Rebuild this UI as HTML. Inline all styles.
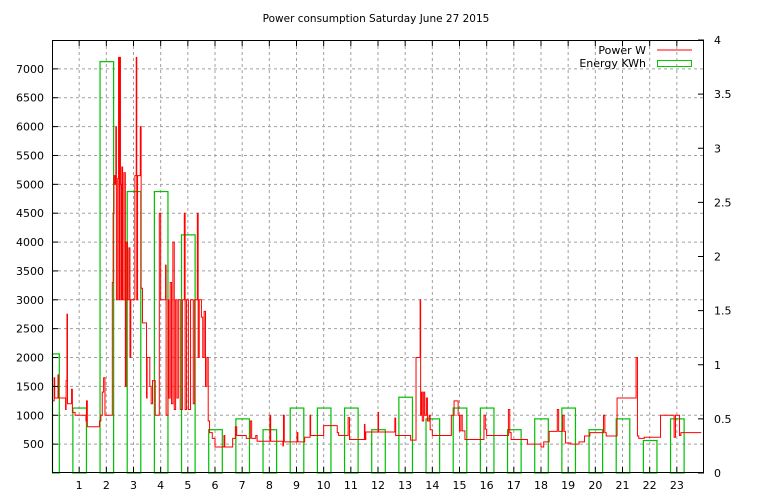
<!DOCTYPE html>
<html><head><meta charset="utf-8"><style>
body{margin:0;background:#fff;}
svg{display:block;font-family:"DejaVu Sans","Liberation Sans",sans-serif;font-size:11px;}
</style></head><body>
<svg id="chart" width="768" height="500">
<text x="376" y="22" text-anchor="middle" font-size="10.5">Power consumption Saturday June 27 2015</text>
<g id="grid"></g>
<g id="energy"></g>
<g id="power"></g>
<g id="axes"></g>
<g>
<g>
<text x="646" y="54" text-anchor="end">Power W</text>
<line x1="657" y1="50" x2="692" y2="50" stroke="#f00" stroke-width="1"/>
</g>
<g>
<text x="646" y="67" text-anchor="end">Energy KWh</text>
<rect x="657.5" y="60.5" width="34" height="6" fill="none" stroke="#0c0" stroke-width="1"/>
</g>
</g>
</svg>
<script>
const hourTicks=[1,2,3,4,5,6,7,8,9,10,11,12,13,14,15,16,17,18,19,20,21,22,23];
const wattTicks=[500,1000,1500,2000,2500,3000,3500,4000,4500,5000,5500,6000,6500,7000];
const kwhTicks=[0,0.5,1,1.5,2,2.5,3,3.5,4];
const energyHours=[0,1,2,3,4,5,6,7,8,9,10,11,12,13,14,15,16,17,18,19,20,21,22,23];
const energyKWh=[1.1,0.6,3.8,2.6,2.6,2.2,0.4,0.5,0.4,0.6,0.6,0.6,0.4,0.7,0.5,0.6,0.6,0.4,0.5,0.6,0.4,0.5,0.3,0.5];
const powerTimes=[0,0.08,0.1,0.2,0.22,0.24,0.45,0.5,0.52,0.55,0.57,0.7,0.72,0.75,0.85,1.2,1.25,1.27,1.3,1.7,1.75,1.8,1.85,1.9,1.95,2.2,2.22,2.25,2.28,2.32,2.35,2.37,2.42,2.45,2.47,2.5,2.52,2.55,2.57,2.6,2.65,2.7,2.73,2.78,2.83,2.87,2.9,3.0,3.05,3.1,3.12,3.15,3.25,3.28,3.33,3.45,3.48,3.5,3.6,3.65,3.7,3.8,3.9,3.95,4.0,4.15,4.18,4.2,4.27,4.3,4.35,4.4,4.45,4.5,4.55,4.6,4.65,4.72,4.8,4.87,4.9,4.95,5.02,5.1,5.2,5.25,5.35,5.38,5.42,5.5,5.55,5.6,5.65,5.7,5.75,5.8,5.9,6.0,6.3,6.33,6.36,6.6,6.65,6.75,6.8,7.1,7.15,7.3,7.35,7.5,7.55,8.0,8.02,8.05,8.4,8.5,8.52,8.55,9.0,9.02,9.05,9.3,9.5,9.52,9.55,10.0,10.5,10.55,10.6,10.9,10.95,10.98,11.5,11.52,11.55,11.8,12.0,12.02,12.6,12.62,12.65,
13.2,13.4,13.55,13.57,13.6,13.63,13.68,13.72,13.78,13.82,13.88,13.92,14.0,14.7,14.8,14.95,15.0,15.05,15.1,15.2,15.9,15.95,16.0,16.8,16.85,16.9,17.5,18.0,18.1,18.3,18.6,18.65,18.8,18.85,18.9,19.1,19.4,19.6,19.8,20.3,20.35,20.4,20.8,21.5,21.55,21.6,21.8,22.4,22.9,22.95,23.1,23.15,23.9,24.0];
const powerWatts=[1250,1650,1300,1300,1700,1300,1300,1100,1600,2750,1200,1200,1450,1050,1000,1000,900,1250,800,800,900,1000,1400,1650,1000,1000,3300,4500,5150,5000,6000,3000,5100,7200,3000,7200,5000,3000,5300,3000,5200,1500,4000,3000,3900,2000,3000,3000,5150,7200,3000,5150,6000,3200,2600,2600,1300,2000,1500,1200,1600,1000,1000,4500,3000,3000,3600,1000,3000,1300,3300,1200,4000,1100,3000,1300,3000,1100,3000,4500,1100,3000,1100,3000,1200,3000,4500,2000,3000,2700,2000,2800,1500,2000,900,700,600,450,450,650,450,450,600,800,650,650,600,900,600,650,550,550,1000,550,550,470,1000,540,540,700,540,620,1000,650,650,820,700,650,650,960,580,580,840,580,710,710,1050,710,710,950,
650,570,2000,3000,1000,1400,900,1400,1000,1300,900,1000,750,650,1000,1250,1000,730,1000,730,580,1000,760,650,1100,700,580,500,450,540,720,1100,720,1000,720,520,500,540,640,700,1000,700,640,1300,2000,640,600,620,1000,620,1000,650,700,700];

const L=52,R=704,T=40,B=473;
const x=h=>L+(R-L)*h/24;
const yW=w=>B-(B-T)*w/7500;
const yK=k=>B-(B-T)*k/4;
const NS="http://www.w3.org/2000/svg";
function mk(tag,attrs,parent){const e=document.createElementNS(NS,tag);for(const k in attrs)e.setAttribute(k,attrs[k]);parent.appendChild(e);return e;}
const grid=document.getElementById('grid'),axes=document.getElementById('axes');
hourTicks.forEach(h=>{
 const g=mk('line',{x1:x(h),x2:x(h),y1:T,y2:B,stroke:'#a0a0a0','stroke-dasharray':'3,3'},grid);
 
 
 mk('line',{x1:x(h),x2:x(h),y1:B,y2:B-6,stroke:'#000'},axes);
 mk('line',{x1:x(h),x2:x(h),y1:T,y2:T+6,stroke:'#000'},axes);
 const t=mk('text',{x:x(h),y:B+16,'text-anchor':'middle'},axes);t.textContent=h;
 
 
});
wattTicks.forEach(w=>{
 const g=mk('line',{x1:L,x2:R,y1:yW(w),y2:yW(w),stroke:'#a0a0a0','stroke-dasharray':'3,3'},grid);
 
 
 mk('line',{x1:L,x2:L+6,y1:yW(w),y2:yW(w),stroke:'#000'},axes);
 const t=mk('text',{x:L-8,y:yW(w)+4,'text-anchor':'end'},axes);t.textContent=w;
 
 
});
kwhTicks.forEach(k=>{
 mk('line',{x1:R,x2:R-6,y1:yK(k),y2:yK(k),stroke:'#000'},axes);
 const t=mk('text',{x:R+10,y:yK(k)+4,'text-anchor':'start'},axes);t.textContent=k;
 
 
});
const fr=mk('rect',{x:L+0.5,y:T+0.5,width:R-L-1,height:B-T-1,fill:'none',stroke:'#000'},axes);


const eg=document.getElementById('energy');
energyHours.forEach((h,i)=>{
 const x0=Math.max(L,x(h-0.25)),x1=x(h+0.25);
 const r=mk('rect',{x:x0+0.5,y:yK(energyKWh[i]),width:x1-x0,height:B-yK(energyKWh[i]),fill:'none',stroke:'#00c000','stroke-width':1.2},eg);
 
 
});
let d='M'+x(powerTimes[0])+','+yW(powerWatts[0]);
const n=Math.min(powerTimes.length,powerWatts.length);
for(let i=1;i<n;i++){d+=' H'+x(powerTimes[i]).toFixed(2)+' V'+yW(powerWatts[i]).toFixed(2);}
const p=mk('path',{d:d,fill:'none',stroke:'#f00','stroke-width':1},document.getElementById('power'));


</script>
</body></html>
